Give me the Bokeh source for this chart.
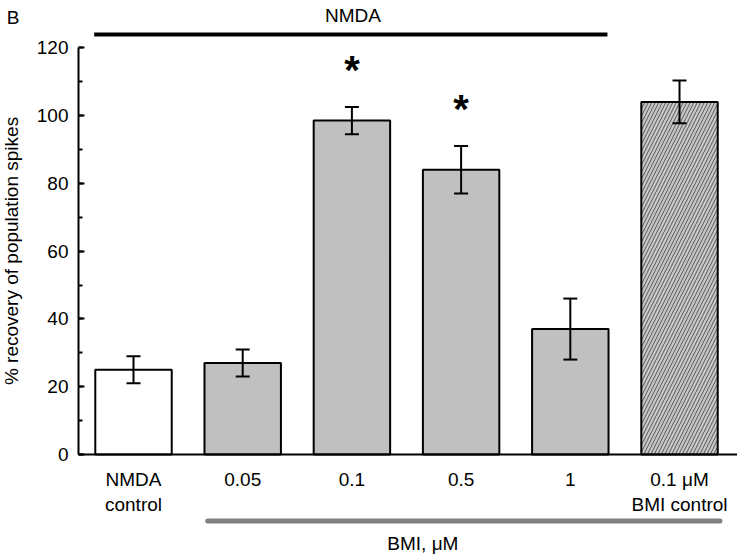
from bokeh.plotting import figure
from bokeh.models import (ColumnDataSource, Whisker, TeeHead, FixedTicker,
                          SingleIntervalTicker, Range1d)
from bokeh.core.properties import value
from bokeh.embed import file_html
from bokeh.resources import INLINE

categories = ["NMDA\ncontrol", "0.05", "0.1", "0.5", "1", "0.1 μM\nBMI control"]
means = [25, 27, 98.5, 84, 37, 104]
errors = [4, 4, 4, 7, 9, 6.3]
fills = ["white", "#c0c0c0", "#c0c0c0", "#c0c0c0", "#c0c0c0", "#c8c8c8"]
hatches = [" ", " ", " ", " ", " ", "/"]
significant = [False, False, True, True, False, False]

FONT = "Liberation Sans"
xs = list(range(len(categories)))
src = ColumnDataSource(dict(
    x=xs, top=means, fill=fills, hatch=hatches,
    upper=[m + e for m, e in zip(means, errors)],
    lower=[m - e for m, e in zip(means, errors)],
))

X_LEFT = -0.504
p = figure(width=737, height=555, output_backend="svg", toolbar_location=None,
           x_range=Range1d(-1.218, 5.531), y_range=Range1d(-29.79, 133.92),
           min_border_left=0, min_border_right=0, min_border_top=0,
           min_border_bottom=0)
p.outline_line_color = None
p.grid.visible = False
p.background_fill_color = "white"

p.vbar(x="x", top="top", width=0.7, bottom=0, source=src, fill_color="fill",
       line_color="black", line_width=2, hatch_pattern="hatch",
       hatch_color="#555555", hatch_scale=7, hatch_weight=1)

p.add_layout(Whisker(base="x", upper="upper", lower="lower", source=src,
                     level="overlay", line_width=2, line_color="black",
                     upper_head=TeeHead(size=14, line_width=2, line_color="black"),
                     lower_head=TeeHead(size=14, line_width=2, line_color="black")))

# asterisks
sx = [x for x, s in zip(xs, significant) if s]
sy = [m + e + 11 for m, e, s in zip(means, errors, significant) if s]
p.text(x=sx, y=sy, text=["*"] * len(sx), text_font=value(FONT),
       text_font_size="40px", text_font_style="bold", text_align="center",
       text_baseline="middle", text_color="black")

# y axis
ya = p.yaxis[0]
ya.fixed_location = X_LEFT
ya.ticker = SingleIntervalTicker(interval=20, num_minor_ticks=2)
ya.bounds = (0, 120)
ya.axis_line_width = 2
ya.major_tick_in = 6
ya.major_tick_out = 0
ya.minor_tick_in = 4
ya.minor_tick_out = 0
ya.major_tick_line_width = 2
ya.minor_tick_line_width = 2
ya.major_label_text_font = FONT
ya.major_label_text_font_size = "19px"
ya.major_label_text_color = "black"
ya.major_label_standoff = 10
ya.axis_label = "% recovery of population spikes"
ya.axis_label_text_font = FONT
ya.axis_label_text_font_size = "19px"
ya.axis_label_text_font_style = "normal"
ya.axis_label_text_color = "black"
ya.axis_label_standoff = 12

# x axis
xa = p.xaxis[0]
xa.fixed_location = 0
xa.bounds = (X_LEFT, 5.531)
xa.ticker = FixedTicker(ticks=xs)
xa.major_label_overrides = {i: c for i, c in zip(xs, categories)}
xa.axis_line_width = 2
xa.major_tick_in = 0
xa.major_tick_out = 0
xa.minor_tick_line_color = None
xa.major_label_text_font = FONT
xa.major_label_text_font_size = "19px"
xa.major_label_text_color = "black"
xa.major_label_standoff = 14

# NMDA bar and label
p.line(x=[-0.36, 4.34], y=[123.9, 123.9], line_width=4, line_color="black")
p.text(x=[2.01], y=[129.6], text=["NMDA"], text_font=value(FONT),
       text_font_size="19px", text_align="center", text_baseline="middle")

# BMI bar and label
p.line(x=[0.68, 5.37], y=[-19.6, -19.6], line_width=5, line_color="#808080",
       line_cap="round")
p.text(x=[2.65], y=[-26.3], text=["BMI, μM"], text_font=value(FONT),
       text_font_size="19px", text_align="center", text_baseline="middle")

# panel letter
p.text(x=[-1.103], y=[128.8], text=["B"], text_font=value(FONT),
       text_font_size="19px", text_align="center", text_baseline="middle")

open("out.html", "w").write(file_html(p, INLINE))
